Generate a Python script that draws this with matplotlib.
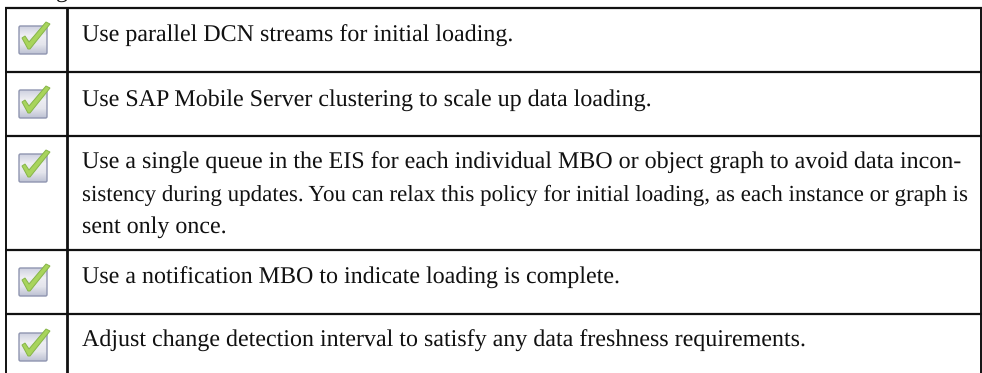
import matplotlib
matplotlib.use('Agg')
import matplotlib.pyplot as plt
import numpy as np
from matplotlib.patches import FancyBboxPatch, Polygon
from matplotlib.colors import LinearSegmentedColormap

plt.rcParams['text.hinting'] = 'no_hinting'
plt.rcParams['text.hinting_factor'] = 1

W, H = 982, 373
# table geometry, in image pixels
row_lines = [7.5, 71.5, 135.5, 249.5, 314, 373]
col_lines = [6, 67.5, 981]
# each text line: string, right end of the line
rows = [
    [('Use parallel DCN streams for initial loading.', 512)],
    [('Use SAP Mobile Server clustering to scale up data loading.', 650)],
    [('Use a single queue in the EIS for each individual MBO or object graph to avoid data incon-', 958),
     ('sistency during updates. You can relax this policy for initial loading, as each instance or graph is', 971),
     ('sent only once.', 225)],
    [('Use a notification MBO to indicate loading is complete.', 618)],
    [('Adjust change detection interval to satisfy any data freshness requirements.', 803)],
]
baselines = [[42], [106], [169, 201, 233], [284], [347]]
box_tops = [26, 90, 154, 268, 333]

fig = plt.figure(figsize=(W / 100, H / 100), dpi=100)
ax = fig.add_axes([0, 0, 1, 1])
ax.set_xlim(0, W)
ax.set_ylim(H, 0)
ax.axis('off')

fs = 17.6
font = 'Liberation Serif'
box_cmap = LinearSegmentedColormap.from_list('box', ['#cfd2e0', '#eeeef3', '#e4e5ec', '#bfc3d4'])


def draw_line(s, x, y, right):
    # size each line so that it ends where it should
    r = fig.canvas.get_renderer()
    t = ax.text(x, y, s, family=font, fontsize=fs, color='#111111', va='baseline')
    t.set_fontsize(fs * (right - x) / t.get_window_extent(r).width)


def draw_box(x, y):
    # grey-blue gradient checkbox with a green tick
    grad = np.linspace(0, 1, 28).reshape(-1, 1)
    patch = FancyBboxPatch((x, y), 28, 28, boxstyle='round,pad=0,rounding_size=1.5',
                           fc='none', ec='#8f95b0', lw=1.0, zorder=3)
    ax.add_patch(patch)
    im = ax.imshow(grad, cmap=box_cmap, extent=(x, x + 28, y + 28, y), aspect='auto', zorder=2)
    im.set_clip_path(patch)
    tick = [(x + 3, y + 12), (x + 6, y + 10), (x + 10, y + 16), (x + 27, y - 4), (x + 31, y - 2),
            (x + 11, y + 23), (x + 9, y + 23)]
    ax.add_patch(Polygon(tick, closed=True, fc='#a8d45c', ec='#86b548', lw=0.7, zorder=4))
    ax.set_xlim(0, W)
    ax.set_ylim(H, 0)


fig.canvas.draw()

# tail of the heading word cut off by the top of the image
ax.text(62, -3, 'g', family=font, fontsize=fs, color='#111111', ha='center', va='baseline', clip_on=True)

for y in row_lines[:-1]:
    ax.plot([col_lines[0] - 1, col_lines[-1] + 1], [y, y], color='#111111', lw=1.6, solid_capstyle='butt')
for x in col_lines:
    ax.plot([x, x], [row_lines[0], H], color='#111111', lw=1.4 if x != 67.5 else 2.0, solid_capstyle='butt')

for row, lines_y in zip(rows, baselines):
    for (s, right), y in zip(row, lines_y):
        draw_line(s, 82, y, right)

for y in box_tops:
    draw_box(19, y)

fig.savefig('out.png', dpi=100)
